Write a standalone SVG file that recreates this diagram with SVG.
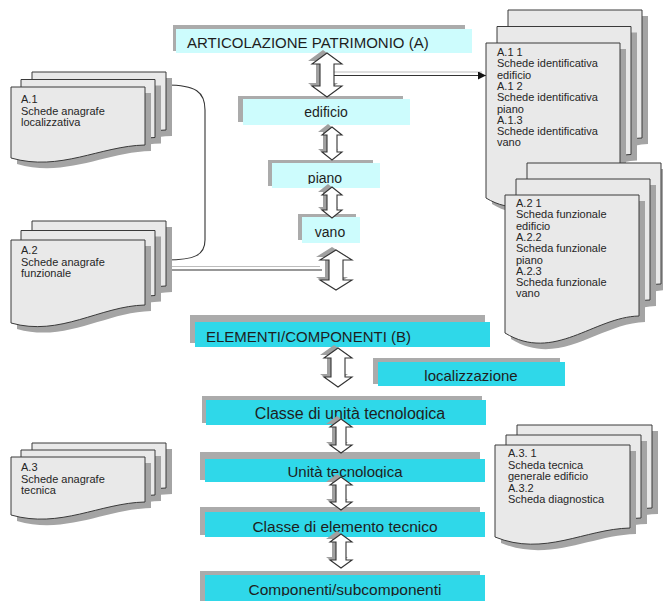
<svg xmlns="http://www.w3.org/2000/svg" width="663" height="601" viewBox="0 0 663 601">
  <defs>
    <style>
      .sheet { fill: #e9e9e9; stroke: #3a3a3a; stroke-width: 1; }
      .sh { fill: #a4a4a4; }
      .lt { fill: #cdfcfd; }
      .dk { fill: #2fd8e9; }
      .bsh { fill: #ababab; }
      .arr { fill: #ffffff; stroke: #333333; stroke-width: 1.1; stroke-linejoin: miter; }
      .ash { fill: #a0a0a0; }
      .line { fill: none; stroke: #333333; stroke-width: 1.1; }
      .gline { fill: none; stroke: #bdbdbd; stroke-width: 1.2; }
      text { font-family: "Liberation Sans", Arial, sans-serif; fill: #1e1e1e; }
      .doc { font-size: 11px; fill: #262626; }
      .lbl { font-size: 14px; text-anchor: middle; }
      .big { font-size: 15px; }
      .bc { text-anchor: middle; }
    </style>
    <!-- document sheet outlines: straight top and sides, wavy bottom -->
    <path id="docA1" d="M0,0 H134 V58 C89,59 49,85 0,71 Z"/>
    <path id="docA2" d="M0,0 H134 V65 C89,66 49,97 0,83 Z"/>
    <path id="docA3" d="M0,0 H134 V45 C89,46 49,72 0,58 Z"/>
    <path id="docR1" d="M0,0 H134 V128 C89,129 49,185 0,155 Z"/>
    <path id="docR2" d="M0,0 H134 V121 C89,122 49,168 0,138 Z"/>
    <path id="docR3" d="M0,0 H135 V83 C90,84 49,112 0,92 Z"/>
    <clipPath id="clipPiano"><rect x="272" y="150" width="108" height="34"/></clipPath>
    <clipPath id="clipCut"><rect x="200" y="390" width="290" height="30"/></clipPath>
    <clipPath id="clipUnita"><rect x="200" y="450" width="290" height="28"/></clipPath>
    <clipPath id="clipComp"><rect x="200" y="565" width="290" height="31"/></clipPath>
    <marker id="head" viewBox="0 0 10 10" refX="10" refY="5" markerWidth="8" markerHeight="8" markerUnits="userSpaceOnUse" orient="auto">
      <path d="M0,0 L10,5 L0,10 Z" fill="#111111"/>
    </marker>
  </defs>

  <rect width="663" height="601" fill="#ffffff"/>

  <!-- connectors -->
  <g id="connectors">
    <line class="gline" x1="334" y1="72" x2="482" y2="72"/>
    <line class="line" x1="334" y1="75.5" x2="486" y2="75.5" marker-end="url(#head)"/>
    <path class="line" d="M166,85 C196,85 205,92 205,110 L205,240 C205,255 195,260 166,260"/>
    <line class="gline" x1="166" y1="266.5" x2="320" y2="266.5"/>
    <line class="line" x1="166" y1="270" x2="322" y2="270"/>
  </g>

  <!-- left stacks -->
  <g id="docA1stack">
    <use href="#docA1" class="sh" x="38" y="78"/>
    <use href="#docA1" class="sheet" x="32" y="72"/>
    <use href="#docA1" class="sh" x="27" y="85.5"/>
    <use href="#docA1" class="sheet" x="21" y="79.5"/>
    <use href="#docA1" class="sh" x="17" y="93"/>
    <use href="#docA1" class="sheet" x="11" y="87"/>
    <text class="doc"><tspan x="21" y="103">A.1</tspan><tspan x="21" y="114.5">Schede anagrafe</tspan><tspan x="21" y="126">localizzativa</tspan></text>
  </g>
  <g id="docA2stack">
    <use href="#docA2" class="sh" x="38" y="227"/>
    <use href="#docA2" class="sheet" x="32" y="221"/>
    <use href="#docA2" class="sh" x="27" y="236.5"/>
    <use href="#docA2" class="sheet" x="21" y="230.5"/>
    <use href="#docA2" class="sh" x="17" y="246"/>
    <use href="#docA2" class="sheet" x="11" y="240"/>
    <text class="doc"><tspan x="21" y="254">A.2</tspan><tspan x="21" y="265.5">Schede anagrafe</tspan><tspan x="21" y="277">funzionale</tspan></text>
  </g>
  <g id="docA3stack">
    <use href="#docA3" class="sh" x="38" y="449"/>
    <use href="#docA3" class="sheet" x="32" y="443"/>
    <use href="#docA3" class="sh" x="27" y="456"/>
    <use href="#docA3" class="sheet" x="21" y="450"/>
    <use href="#docA3" class="sh" x="17" y="463"/>
    <use href="#docA3" class="sheet" x="11" y="457"/>
    <text class="doc"><tspan x="21" y="471">A.3</tspan><tspan x="21" y="482.5">Schede anagrafe</tspan><tspan x="21" y="494">tecnica</tspan></text>
  </g>

  <!-- right stacks -->
  <g id="docR1stack">
    <use href="#docR1" class="sh" x="514" y="16"/>
    <use href="#docR1" class="sheet" x="508" y="10"/>
    <use href="#docR1" class="sh" x="503" y="32.5"/>
    <use href="#docR1" class="sheet" x="497" y="26.5"/>
    <use href="#docR1" class="sh" x="492" y="49"/>
    <use href="#docR1" class="sheet" x="486" y="43"/>
    <text class="doc">
      <tspan x="497" y="56">A.1 1</tspan>
      <tspan x="497" y="67.3">Schede identificativa</tspan>
      <tspan x="497" y="78.6">edificio</tspan>
      <tspan x="497" y="89.9">A.1 2</tspan>
      <tspan x="497" y="101.2">Schede identificativa</tspan>
      <tspan x="497" y="112.5">piano</tspan>
      <tspan x="497" y="123.8">A.1.3</tspan>
      <tspan x="497" y="135.1">Schede identificativa</tspan>
      <tspan x="497" y="146.4">vano</tspan>
    </text>
  </g>
  <g id="docR2stack">
    <use href="#docR2" class="sh" x="533" y="169"/>
    <use href="#docR2" class="sheet" x="527" y="163"/>
    <use href="#docR2" class="sh" x="522" y="185"/>
    <use href="#docR2" class="sheet" x="516" y="179"/>
    <use href="#docR2" class="sh" x="511" y="201"/>
    <use href="#docR2" class="sheet" x="505" y="195"/>
    <text class="doc">
      <tspan x="516" y="207">A.2 1</tspan>
      <tspan x="516" y="218.3">Scheda funzionale</tspan>
      <tspan x="516" y="229.6">edificio</tspan>
      <tspan x="516" y="240.9">A.2.2</tspan>
      <tspan x="516" y="252.2">Scheda funzionale</tspan>
      <tspan x="516" y="263.5">piano</tspan>
      <tspan x="516" y="274.8">A.2.3</tspan>
      <tspan x="516" y="286.1">Scheda funzionale</tspan>
      <tspan x="516" y="297.4">vano</tspan>
    </text>
  </g>
  <g id="docR3stack">
    <use href="#docR3" class="sh" x="523" y="431"/>
    <use href="#docR3" class="sheet" x="517" y="425"/>
    <use href="#docR3" class="sh" x="512" y="441"/>
    <use href="#docR3" class="sheet" x="506" y="435"/>
    <use href="#docR3" class="sh" x="501" y="451"/>
    <use href="#docR3" class="sheet" x="495" y="445"/>
    <text class="doc">
      <tspan x="508" y="457">A.3. 1</tspan>
      <tspan x="508" y="468.5">Scheda tecnica</tspan>
      <tspan x="508" y="480">generale edificio</tspan>
      <tspan x="508" y="491.5">A.3.2</tspan>
      <tspan x="508" y="503">Scheda diagnostica</tspan>
    </text>
  </g>

  <!-- section A boxes -->
  <g id="articolazione">
    <rect class="bsh" x="173" y="25" width="292" height="26"/>
    <rect class="lt" x="176" y="29" width="296" height="24"/>
    <text class="big" x="187" y="48">ARTICOLAZIONE PATRIMONIO (A)</text>
  </g>
  <g id="edificio">
    <rect class="bsh" x="238" y="96" width="165" height="26"/>
    <rect class="lt" x="243" y="99" width="167" height="26"/>
    <text class="lbl" x="326" y="117">edificio</text>
  </g>
  <g id="piano">
    <rect class="bsh" x="268" y="160" width="105" height="26"/>
    <rect class="lt" x="272" y="163" width="108" height="25"/>
    <text class="lbl" x="325" y="183" clip-path="url(#clipPiano)">piano</text>
  </g>
  <g id="vano">
    <rect class="bsh" x="298" y="214" width="58" height="26"/>
    <rect class="lt" x="302" y="217" width="58" height="26"/>
    <text class="lbl" x="330" y="237">vano</text>
  </g>

  <!-- section B boxes -->
  <g id="elementi">
    <rect class="bsh" x="190" y="315" width="295" height="28"/>
    <rect class="dk" x="195" y="322" width="295" height="25"/>
    <text class="big" x="206" y="342">ELEMENTI/COMPONENTI (B)</text>
  </g>
  <g id="localizzazione">
    <rect class="bsh" x="373" y="358" width="187" height="26"/>
    <rect class="dk" x="378" y="362" width="187" height="24"/>
    <text class="big bc" x="471" y="381">localizzazione</text>
  </g>
  <g id="classe-unita">
    <rect class="bsh" x="202" y="396" width="280" height="27"/>
    <rect class="dk" x="206" y="400" width="280" height="25"/>
    <text class="big bc" x="350" y="419" style="font-size:16px" clip-path="url(#clipCut)">Classe di unità tecnologica</text>
  </g>
  <g id="unita">
    <rect class="bsh" x="200" y="452" width="280" height="28"/>
    <rect class="dk" x="205" y="459" width="280" height="23"/>
    <text class="big bc" x="345" y="477" clip-path="url(#clipUnita)">Unità tecnologica</text>
  </g>
  <g id="classe-elemento">
    <rect class="bsh" x="200" y="507" width="280" height="28"/>
    <rect class="dk" x="205" y="512" width="280" height="25"/>
    <text class="big bc" x="345" y="532" style="font-size:15.5px">Classe di elemento tecnico</text>
  </g>
  <g id="componenti">
    <rect class="bsh" x="200" y="571" width="280" height="30"/>
    <rect class="dk" x="205" y="575" width="280" height="26"/>
    <text class="big bc" x="345" y="595" style="font-size:15.5px" clip-path="url(#clipComp)">Componenti/subcomponenti</text>
  </g>

  <!-- hollow double arrows between levels -->
  <g id="arrows">
    <g transform="translate(-4,-3)">
      <path class="ash" d="M327,53 L342,64 L334,64 L334,86 L342,86 L327,97 L312,86 L320,86 L320,64 L312,64 Z"/>
      <path class="ash" d="M332,127 L342,135 L337,135 L337,152 L342,152 L332,160 L322,152 L327,152 L327,135 L322,135 Z"/>
      <path class="ash" d="M332,187 L342,195 L337,195 L337,210 L342,210 L332,218 L322,210 L327,210 L327,195 L322,195 Z"/>
      <path class="ash" d="M336,250 L352,260 L343,260 L343,280 L352,280 L336,290 L320,280 L329,280 L329,260 L320,260 Z"/>
      <path class="ash" d="M338,348 L352,358 L345,358 L345,377 L352,377 L338,387 L324,377 L331,377 L331,358 L324,358 Z"/>
      <path class="ash" d="M341,419 L352,427 L346,427 L346,445 L352,445 L341,453 L330,445 L336,445 L336,427 L330,427 Z"/>
      <path class="ash" d="M341,477 L352,485 L346,485 L346,502 L352,502 L341,510 L330,502 L336,502 L336,485 L330,485 Z"/>
      <path class="ash" d="M341,534 L352,542 L346,542 L346,560 L352,560 L341,568 L330,560 L336,560 L336,542 L330,542 Z"/>
    </g>
    <path class="arr" d="M327,53 L342,64 L334,64 L334,86 L342,86 L327,97 L312,86 L320,86 L320,64 L312,64 Z"/>
    <path class="arr" d="M332,127 L342,135 L337,135 L337,152 L342,152 L332,160 L322,152 L327,152 L327,135 L322,135 Z"/>
    <path class="arr" d="M332,187 L342,195 L337,195 L337,210 L342,210 L332,218 L322,210 L327,210 L327,195 L322,195 Z"/>
    <path class="arr" d="M336,250 L352,260 L343,260 L343,280 L352,280 L336,290 L320,280 L329,280 L329,260 L320,260 Z"/>
    <path class="arr" d="M338,348 L352,358 L345,358 L345,377 L352,377 L338,387 L324,377 L331,377 L331,358 L324,358 Z"/>
    <path class="arr" d="M341,419 L352,427 L346,427 L346,445 L352,445 L341,453 L330,445 L336,445 L336,427 L330,427 Z"/>
    <path class="arr" d="M341,477 L352,485 L346,485 L346,502 L352,502 L341,510 L330,502 L336,502 L336,485 L330,485 Z"/>
    <path class="arr" d="M341,534 L352,542 L346,542 L346,560 L352,560 L341,568 L330,560 L336,560 L336,542 L330,542 Z"/>
  </g>
</svg>
